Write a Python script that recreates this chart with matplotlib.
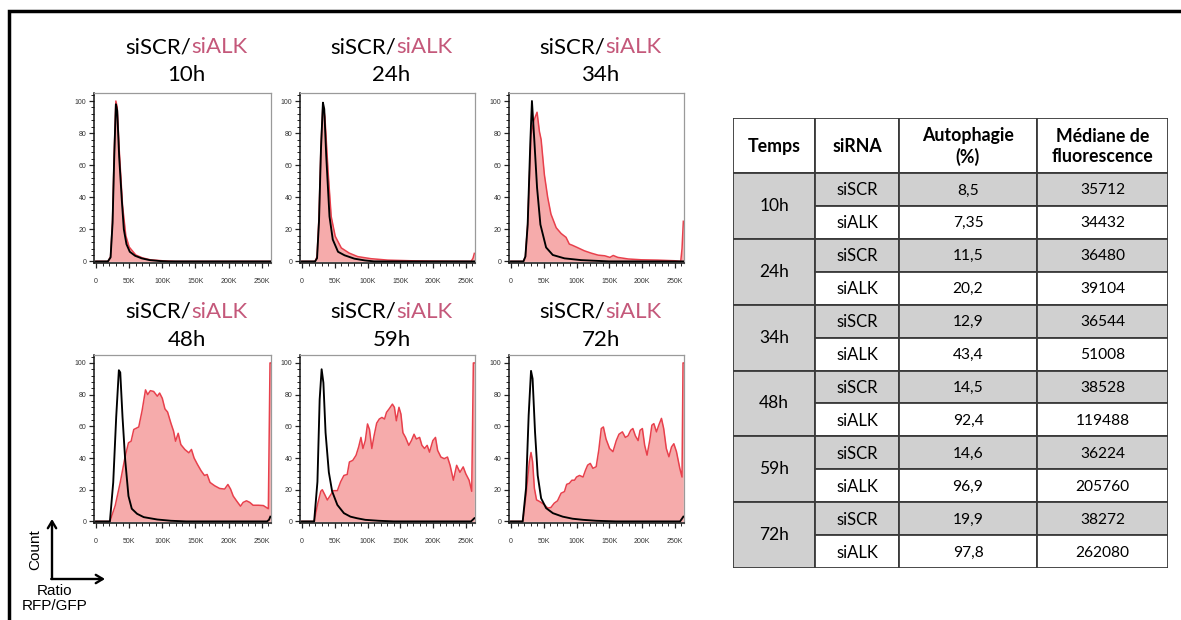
import matplotlib
matplotlib.use("Agg")
import matplotlib.pyplot as plt
from matplotlib.lines import Line2D
from matplotlib.patches import Rectangle, FancyArrowPatch
from matplotlib.ticker import MultipleLocator

# ---------------- data ----------------
times = ["10h", "24h", "34h", "48h", "59h", "72h"]
sirna = ["siSCR", "siALK"]

# histogram curves (x in K of ratio RFP/GFP, y = normalised count)
x_10h_scr = [0, 18, 22, 25, 27.5, 30, 32, 35, 39, 42, 46, 51, 59, 69, 81, 97, 110, 263]
y_10h_scr = [0, 0, 2.5, 24, 65, 98, 94, 65, 38, 20, 10.7, 6, 3.5, 1.9, 0.8, 0.2, 0, 0]
x_10h_alk = [0, 18, 22, 25, 27.5, 30, 32, 35, 40, 45, 50, 60, 70, 82, 100, 120, 263]
y_10h_alk = [0, 0, 3, 26, 68, 100, 96, 70, 35, 16, 9, 4, 2.2, 1, 0.4, 0, 0]

x_24h_scr = [0, 20, 23, 26, 29, 32, 34, 37, 42, 47, 55, 65, 80, 96, 110, 263]
y_24h_scr = [0, 0, 2, 25, 70, 99, 95, 66, 28, 13.6, 6, 3.8, 1.7, 0.6, 0, 0]
x_24h_alk = [0, 20, 23, 26, 29, 32, 35, 40, 44.6, 50.7, 60, 72, 85, 105, 131, 166, 200, 258, 261, 263]
y_24h_alk = [0, 0, 3, 28, 72, 98, 90, 55, 28, 15.7, 8.4, 5.2, 3, 1.7, 0.8, 0.4, 0.2, 0, 2, 5]

x_34h_scr = [0, 19, 22, 25.5, 29.6, 32, 35.7, 39.8, 44.9, 53.6, 63.8, 81.6, 107, 133, 150, 263]
y_34h_scr = [0, 0, 3, 23, 75, 100, 75, 46, 23, 8.7, 4, 1.9, 0.8, 0.3, 0, 0]
x_34h_alk = [0, 19, 22, 25.5, 30.6, 34.7, 39.8, 43.4, 46, 51, 56, 61, 69, 76.5, 84, 89, 94, 101,
             112, 122, 133, 143, 151, 156, 163, 179, 199, 224, 250, 259, 261, 263]
y_34h_alk = [0, 0, 3, 23, 79, 87.5, 93, 81, 76, 54, 40, 29.5, 21, 17.4, 15, 10.8, 10, 8.7,
             6.6, 5.2, 3.9, 3.5, 2.5, 3.7, 2.5, 1.5, 1, 0.8, 0.4, 0, 8, 25]

x_48h_scr = [0, 21, 26, 30.5, 34.5, 36.6, 40, 44, 49, 54, 62, 72, 92.5, 113, 136, 258, 261, 263]
y_48h_scr = [0, 0, 24.6, 66, 95.4, 94, 66, 39, 16, 8, 4.8, 2.7, 1.2, 0.4, 0, 0, 1, 3]
x_48h_alk = [0, 21, 29, 36.6, 44, 49, 53, 57, 64.5, 69.6, 74.7, 78, 82, 87, 92.5, 96, 100, 104,
             108, 113, 117, 120, 124, 128, 134, 140, 144, 148, 153, 158.5, 163.6, 167.7, 172,
             179, 186.5, 194, 199, 203, 207, 212, 218, 222, 227, 232, 237, 245, 252.5, 260, 262.5, 263]
y_48h_alk = [0, 0, 10, 24.6, 41, 49.6, 50.6, 58, 59.6, 70, 83, 80, 82.5, 82, 79, 81, 77.7, 71,
             69, 62, 57, 50.6, 55.6, 48.5, 45.4, 43.3, 45.4, 40, 36, 32, 29, 29.6, 24.6,
             22.5, 20.8, 20.4, 23.3, 20.4, 16, 13, 9.6, 12, 13, 12, 10.2, 10.2, 10, 8, 100, 100]

x_59h_scr = [0, 18.6, 23.6, 27, 30, 32.7, 36, 41, 46, 54, 64, 74, 84, 96.6, 117, 140, 258, 263]
y_59h_scr = [0, 0, 25, 77, 96, 87.5, 56, 31, 19, 10.4, 5.2, 3, 2, 1, 0.4, 0, 0, 2]
x_59h_alk = [0, 18.6, 23.6, 28.7, 31, 35, 38.7, 43.7, 47.8, 54, 59, 64, 69, 72.4, 77.5, 82.5,
             86.5, 90, 93, 96.6, 100, 103, 106.6, 110, 114, 118, 122, 126, 129, 133, 138, 141,
             144, 148, 151, 154, 158, 163, 167, 171, 174.5, 179.5, 183, 187, 191, 194.6, 199.7,
             203.7, 207, 212, 217, 222, 226, 231, 236, 241, 246, 250, 255, 259, 261.5, 263]
y_59h_alk = [0, 0, 10.4, 19, 20, 16.7, 13.5, 16.7, 19.4, 19.4, 25, 29, 29.6, 37.5, 38.5, 41.7,
             47, 53, 46, 51, 61.5, 58, 46, 54, 62, 64.6, 65.6, 64.6, 68.8, 71, 74, 72,
             63.5, 72, 67.7, 56, 53, 48, 51, 55, 52, 53, 48, 46, 48, 43.7, 51,
             53, 44.8, 40.6, 39.6, 40.6, 35.4, 26, 35.4, 31, 34.4, 30, 26, 19, 100, 100]

x_72h_scr = [0, 17.9, 23, 27, 30.6, 33, 36.7, 40.8, 46, 53.6, 64, 79, 94, 110, 130, 160, 258, 263]
y_72h_scr = [0, 0, 21, 67, 95, 90, 56.5, 29, 14.6, 8.4, 5.2, 3, 1.7, 1, 0.4, 0, 0, 3]
x_72h_alk = [0, 17.9, 23, 28, 30.6, 33, 35.7, 39, 44, 51, 56, 61, 66, 71, 76.5, 81.6, 85, 89,
             93, 97, 100, 104.6, 110, 113.8, 117, 121, 125, 130, 134, 137.8, 141, 145, 150.5,
             155.6, 160.7, 164.8, 170, 174.5, 178.6, 182.7, 186, 189.8, 194, 197, 200.5, 204,
             207.6, 211.7, 215, 218, 222, 225.5, 229.6, 233, 237, 241, 245, 248.5, 252.5,
             257.6, 261, 262.5, 263]
y_72h_alk = [0, 0, 16.7, 37.7, 43.5, 37.7, 21, 13.6, 12.5, 10.5, 8.4, 8.8, 11.5, 13, 17.8, 18.8, 23.4, 24,
             26, 26, 28, 29, 28, 32.4, 35.5, 36.6, 33.5, 34.5, 45, 58.6, 59.6, 52, 46,
             44, 51, 55, 56.5, 53, 54, 57.5, 58.6, 54, 51, 57.5, 58.6, 48,
             41.8, 51, 60.7, 61.7, 56.5, 60.7, 65, 58.6, 46, 40.8, 47, 49, 44,
             33.5, 28, 100, 100]

curves_scr = [(x_10h_scr, y_10h_scr), (x_24h_scr, y_24h_scr), (x_34h_scr, y_34h_scr),
              (x_48h_scr, y_48h_scr), (x_59h_scr, y_59h_scr), (x_72h_scr, y_72h_scr)]
curves_alk = [(x_10h_alk, y_10h_alk), (x_24h_alk, y_24h_alk), (x_34h_alk, y_34h_alk),
              (x_48h_alk, y_48h_alk), (x_59h_alk, y_59h_alk), (x_72h_alk, y_72h_alk)]

x_ticks = [0, 50, 100, 150, 200, 250]
x_tick_labels = ["0", "50K", "100K", "150K", "200K", "250K"]
y_ticks = [0, 20, 40, 60, 80, 100]

# table
table_header = ["Temps", "siRNA", "Autophagie\n(%)", "Médiane de\nfluorescence"]
autophagie = [8.5, 7.35, 11.5, 20.2, 12.9, 43.4, 14.5, 92.4, 14.6, 96.9, 19.9, 97.8]
mediane = [35712, 34432, 36480, 39104, 36544, 51008, 38528, 119488, 36224, 205760, 38272, 262080]

# ---------------- style ----------------
W, H = 1181, 620
PINK = "#c4587a"
FILL = "#f6abab"
EDGE = "#e8404c"
GRAY = "#d0d0d0"
TITLE_FONT = "Lato"

fig = plt.figure(figsize=(W / 100, H / 100), dpi=100)
fig.patch.set_facecolor("white")


def fax(l, t, r, b):
    return fig.add_axes([l / W, 1 - b / H, (r - l) / W, (b - t) / H])


col_px = [(94, 271), (300, 475), (509, 684)]
row_px = [(93, 263), (355, 523)]
title_y = [(47, 75), (312, 340)]
TITLE_SHIFT = 4

renderer = fig.canvas.get_renderer()


def two_color_title(xc, y_px):
    y = 1 - y_px / H
    t1 = fig.text(0, y, "siSCR/", color="black", fontsize=16, family=TITLE_FONT,
                  ha="left", va="center")
    t2 = fig.text(0, y, "siALK", color=PINK, fontsize=16, family=TITLE_FONT,
                  ha="left", va="center")
    w1 = t1.get_window_extent(renderer).width
    w2 = t2.get_window_extent(renderer).width
    x0 = xc - (w1 + w2) / 2
    t1.set_x(x0 / W)
    t2.set_x((x0 + w1) / W)


for i, t in enumerate(times):
    r, c = divmod(i, 3)
    l, rr = col_px[c]
    tp, bt = row_px[r]
    ax = fax(l, tp, rr, bt)
    xs, ys = curves_alk[i]
    ax.fill_between(xs, ys, 0, color=FILL, lw=0, zorder=1)
    ax.plot(xs, ys, color=EDGE, lw=1.1, zorder=2)
    xb, yb = curves_scr[i]
    ax.plot(xb, yb, color="black", lw=1.35, zorder=3)
    ax.set_xlim(-3, 264)
    ax.set_ylim(-1, 105)
    ax.set_xticks(x_ticks)
    ax.set_xticklabels(x_tick_labels)
    ax.set_yticks(y_ticks)
    ax.xaxis.set_minor_locator(MultipleLocator(10))
    ax.yaxis.set_minor_locator(MultipleLocator(4))
    ax.tick_params(axis="both", which="major", length=3.5, width=0.9, labelsize=5,
                   colors="#222222", labelcolor="#333333")
    ax.tick_params(axis="x", which="major", pad=7)
    ax.tick_params(axis="y", which="major", pad=2)
    ax.tick_params(axis="both", which="minor", length=2, width=0.7, colors="#222222")
    for lab in ax.get_xticklabels() + ax.get_yticklabels():
        lab.set_family("Liberation Sans")
    for s in ["left", "bottom"]:
        ax.spines[s].set_color("#111111")
        ax.spines[s].set_linewidth(1.1)
    for s in ["top", "right"]:
        ax.spines[s].set_color("#9a9a9a")
        ax.spines[s].set_linewidth(0.9)
    xc = (l + rr) / 2 + TITLE_SHIFT
    two_color_title(xc, title_y[r][0])
    fig.text(xc / W, 1 - title_y[r][1] / H, t, fontsize=16, family=TITLE_FONT,
             ha="center", va="center")

# ---------------- table ----------------
tab_l, tab_t, tab_r, tab_b = 733, 118, 1168, 568
tax = fax(tab_l, tab_t, tab_r, tab_b)
tax.set_xlim(0, tab_r - tab_l)
tax.set_ylim(tab_b - tab_t, 0)
tax.axis("off")
col_w = [82, 84, 138, 131]
col_x = [0]
for w in col_w:
    col_x.append(col_x[-1] + w)
head_h = 55
row_h = (tab_b - tab_t - head_h) / 12
LC = "#3a3a3a"
LW = 1.3
TF = "Lato"

for j, h in enumerate(table_header):
    tax.add_patch(Rectangle((col_x[j], 0), col_w[j], head_h, facecolor="white",
                            edgecolor=LC, lw=LW))
    tax.text((col_x[j] + col_x[j + 1]) / 2, head_h / 2 + 1, h, ha="center", va="center",
             fontsize=12.8, fontweight="bold", family=TF, linespacing=1.28)

for k, t in enumerate(times):
    y0 = head_h + 2 * k * row_h
    tax.add_patch(Rectangle((col_x[0], y0), col_w[0], 2 * row_h, facecolor=GRAY,
                            edgecolor=LC, lw=LW))
    tax.text(col_w[0] / 2, y0 + row_h, t, ha="center", va="center", fontsize=12.5, family=TF)
    for s in range(2):
        idx = 2 * k + s
        yy = y0 + s * row_h
        fc = GRAY if s == 0 else "white"
        vals = [sirna[s], str(autophagie[idx]).replace(".", ","), str(mediane[idx])]
        for j in range(1, 4):
            tax.add_patch(Rectangle((col_x[j], yy), col_w[j], row_h, facecolor=fc,
                                    edgecolor=LC, lw=LW))
            fs = 12 if j == 1 else 11.2
            tax.text((col_x[j] + col_x[j + 1]) / 2, yy + row_h / 2 + 1, vals[j - 1],
                     ha="center", va="center", fontsize=fs, family=TF)

# ---------------- axis legend (Count / Ratio) ----------------
ox, oy = 52 / W, 1 - 579 / H
fig.add_artist(FancyArrowPatch((ox, oy), (ox, 1 - 519 / H), transform=fig.transFigure,
                               arrowstyle="->,head_length=5,head_width=3", lw=1.7,
                               color="black", shrinkA=0, shrinkB=0))
fig.add_artist(FancyArrowPatch((ox - 0.8 / W, oy), (105 / W, oy), transform=fig.transFigure,
                               arrowstyle="->,head_length=5,head_width=3", lw=1.7,
                               color="black", shrinkA=0, shrinkB=0))
fig.text(35 / W, 1 - 550 / H, "Count", rotation=90, ha="center", va="center",
         fontsize=11, family="Liberation Sans")
fig.text(55 / W, 1 - 591 / H, "Ratio", ha="center", va="center", fontsize=11,
         family="Liberation Sans")
fig.text(55 / W, 1 - 606 / H, "RFP/GFP", ha="center", va="center", fontsize=11,
         family="Liberation Sans")

# ---------------- outer frame ----------------
fig.add_artist(Line2D([9.5 / W, 9.5 / W, 1.0], [0.0, 1 - 11 / H, 1 - 11 / H],
                      transform=fig.transFigure, color="black", lw=2.5,
                      solid_joinstyle="miter"))

fig.savefig("out.png", dpi=100, facecolor="white")
